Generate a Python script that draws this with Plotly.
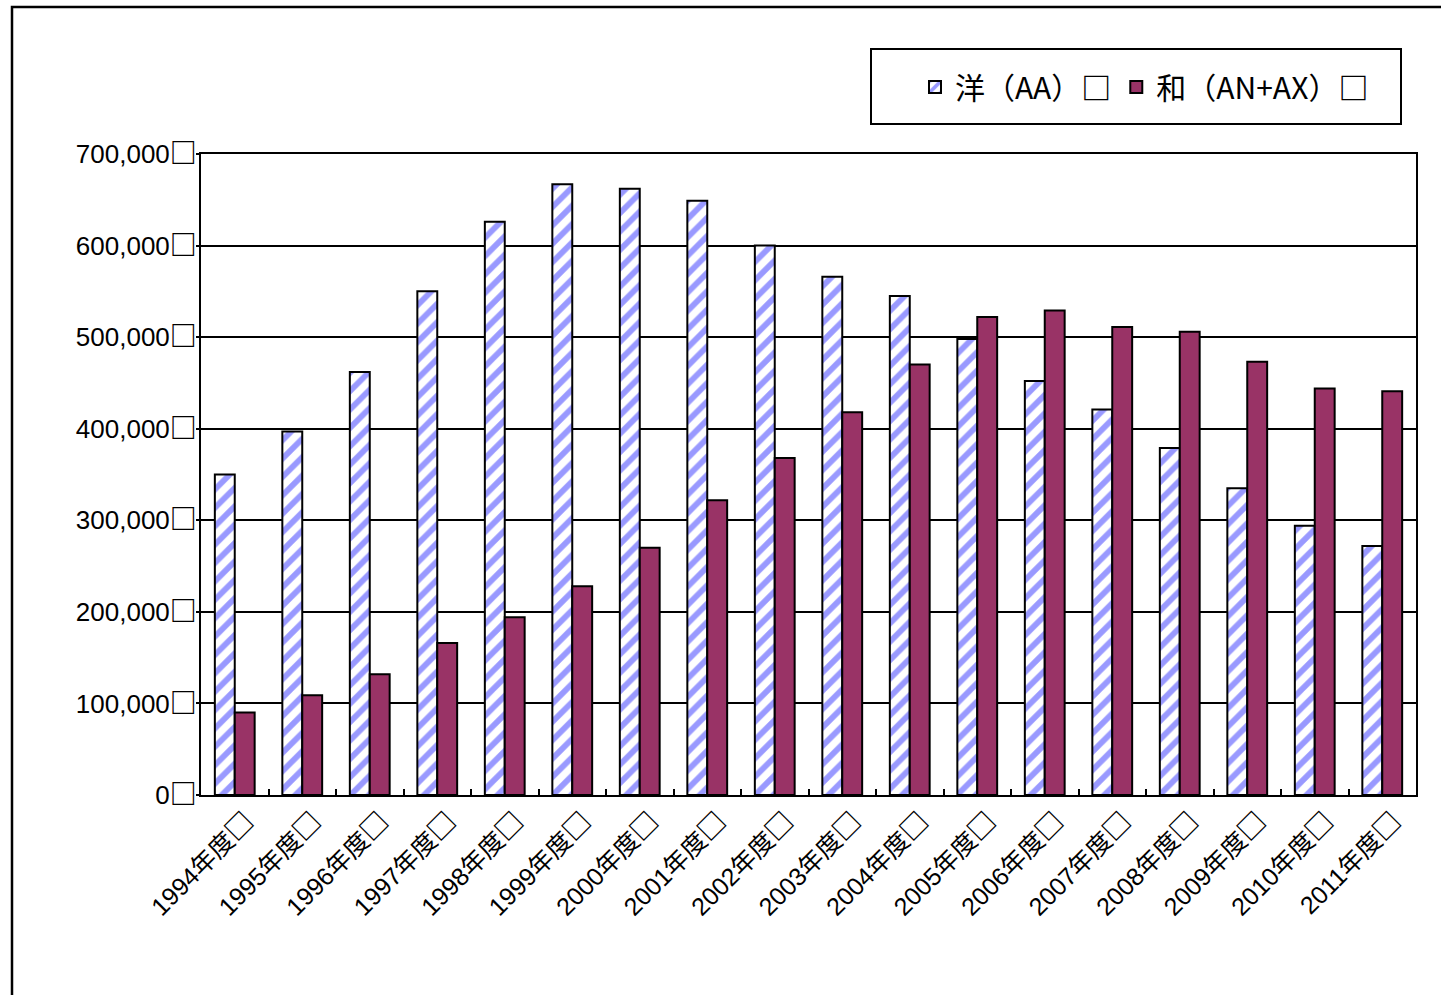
import plotly.graph_objects as go

categories = ["1994年度□", "1995年度□", "1996年度□", "1997年度□", "1998年度□", "1999年度□",
              "2000年度□", "2001年度□", "2002年度□", "2003年度□", "2004年度□", "2005年度□",
              "2006年度□", "2007年度□", "2008年度□", "2009年度□", "2010年度□", "2011年度□"]
yo_aa = [350000, 397000, 462000, 550000, 626000, 667000, 662000, 649000, 600000,
         566000, 545000, 498000, 452000, 421000, 379000, 335000, 294000, 272000]
wa_anax = [90000, 109000, 132000, 166000, 194000, 228000, 270000, 322000, 368000,
           418000, 470000, 522000, 529000, 511000, 506000, 473000, 444000, 441000]
series_names = ["洋（AA）□", "和（AN+AX）□"]
y_tickvals = [0, 100000, 200000, 300000, 400000, 500000, 600000, 700000]
y_ticktext = ["0□", "100,000□", "200,000□", "300,000□", "400,000□", "500,000□", "600,000□", "700,000□"]

CJK = "Noto Sans CJK JP"
FONT = "Liberation Sans, Arial, Noto Sans CJK JP, sans-serif"


def fmt(label, box_size):
    # CJK characters and the box with the CJK font, digits with an Arial-like font
    out = ""
    for ch in label:
        if ch == "□":
            out += f"<b><span style='font-family:{CJK};font-size:{box_size}px'>□</span></b>"
        elif ch.isascii():
            out += ch
        else:
            out += f"<span style='font-family:{CJK}'>{ch}</span>"
    return out


fig = go.Figure()
fig.add_trace(go.Bar(
    x=categories, y=yo_aa, name=fmt(series_names[0], 30),
    marker=dict(color="white",
                pattern=dict(shape="/", fgcolor="#9999ff", bgcolor="white", size=13,
                             solidity=0.45, fgopacity=1),
                line=dict(color="black", width=2)),
))
fig.add_trace(go.Bar(
    x=categories, y=wa_anax, name=fmt(series_names[1], 30),
    marker=dict(color="#993366", line=dict(color="black", width=2)),
))

W, H = 1441, 995
L, R, T, B = 201, 25, 154, 200
pw, ph = W - L - R, H - T - B


def px_x(x):
    return (x - L) / pw


def px_y(y):
    return (H - B - y) / ph


fig.update_layout(
    width=W, height=H,
    margin=dict(l=L, r=R, t=T, b=B),
    paper_bgcolor="white", plot_bgcolor="white",
    barmode="group", bargap=0.41, bargroupgap=0,
    font=dict(family=FONT, color="black", size=24),
    showlegend=True,
    legend=dict(orientation="h", x=px_x(915), xanchor="left", y=px_y(87), yanchor="middle",
                bgcolor="rgba(0,0,0,0)", borderwidth=0,
                font=dict(size=30, family=CJK),
                itemsizing="constant", traceorder="normal"),
    xaxis=dict(type="category", showline=True, linecolor="black", linewidth=2, mirror=True,
               ticks="inside", ticklen=6, tickwidth=2, tickcolor="black", tickson="boundaries",
               tickangle=-45, tickfont=dict(size=25, family=FONT), showgrid=False,
               tickvals=categories, ticktext=[fmt(c, 27) for c in categories],
               ticklabelshift=12),
    yaxis=dict(range=[0, 700000], tickvals=y_tickvals, ticktext=[fmt(t, 27) for t in y_ticktext],
               showline=True, linecolor="black", linewidth=2, mirror=True,
               ticks="outside", ticklen=3, tickwidth=2, tickcolor="black",
               showgrid=True, gridcolor="black", gridwidth=2,
               tickfont=dict(size=26, family=FONT), ticklabelstandoff=-6, zeroline=False),
    shapes=[
        dict(type="rect", xref="paper", yref="paper",
             x0=px_x(12), x1=px_x(1460), y0=px_y(1010), y1=px_y(7),
             line=dict(color="black", width=2.5), fillcolor="rgba(0,0,0,0)", layer="below"),
        dict(type="rect", xref="paper", yref="paper",
             x0=px_x(871), x1=px_x(1401), y0=px_y(124), y1=px_y(49),
             line=dict(color="black", width=2), fillcolor="white", layer="below"),
    ],
)

fig.write_html("out.html")
